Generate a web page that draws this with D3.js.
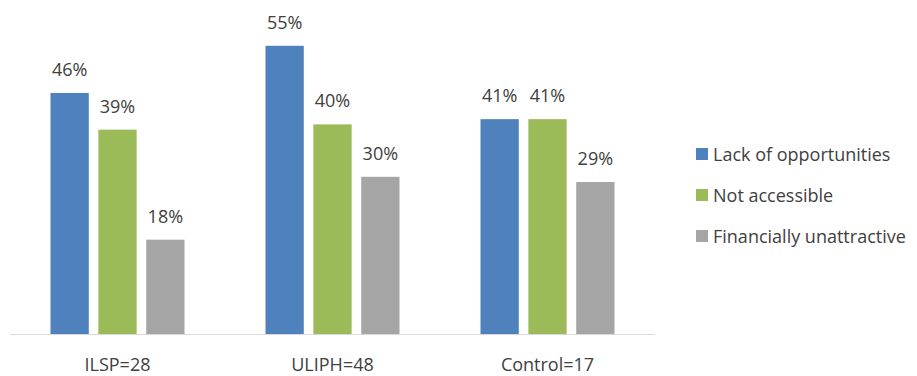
<!DOCTYPE html>
<html>
<head>
<meta charset="utf-8">
<script src="https://cdn.jsdelivr.net/npm/d3@7"></script>
<style>
  body { margin: 0; background: #fff; }
  text { font-family: "Open Sans", "Noto Sans", sans-serif; fill: #404040; }
</style>
</head>
<body>
<svg width="917" height="376"></svg>
<script>
var categories = ["ILSP=28", "ULIPH=48", "Control=17"];
var seriesNames = ["Lack of opportunities", "Not accessible", "Financially unattractive"];
var lackOfOpportunities = [0.46, 0.55, 0.41];
var notAccessible = [0.39, 0.40, 0.41];
var financiallyUnattractive = [0.18, 0.30, 0.29];
var colors = ["#4f81bd", "#9bbb59", "#a5a5a5"];

var series = [lackOfOpportunities, notAccessible, financiallyUnattractive];

var svg = d3.select("svg");
var left = 10, right = 655, baseline = 334;
var fontSize = 18;

var x0 = d3.scaleBand()
    .domain(categories)
    .range([left, right])
    .paddingInner(0)
    .paddingOuter(0);

var x1 = d3.scaleBand()
    .domain(d3.range(series.length))
    .range([40.5, 215 - 40.5])
    .paddingInner(0.2);

var y = d3.scaleLinear()
    .domain([0, 0.6])
    .range([baseline, baseline - 314.4]);

var fmt = d3.format(".0%");

var groups = svg.selectAll("g.cat")
    .data(categories)
    .join("g")
    .attr("class", "cat")
    .attr("transform", d => "translate(" + x0(d) + ",0)");

groups.each(function(cat, ci) {
    var g = d3.select(this);
    series.forEach(function(vals, si) {
        g.append("rect")
            .attr("x", x1(si))
            .attr("width", x1.bandwidth())
            .attr("y", y(vals[ci]))
            .attr("height", baseline - y(vals[ci]))
            .attr("fill", colors[si]);
        g.append("text")
            .attr("x", x1(si) + x1.bandwidth() / 2)
            .attr("y", y(vals[ci]) - 17)
            .attr("text-anchor", "middle")
            .attr("font-size", fontSize)
            .text(fmt(vals[ci]));
    });
});

// baseline axis
svg.append("line")
    .attr("x1", left).attr("x2", right)
    .attr("y1", baseline + 0.5).attr("y2", baseline + 0.5)
    .attr("stroke", "#d9d9d9");

svg.selectAll("text.cat")
    .data(categories)
    .join("text")
    .attr("class", "cat")
    .attr("x", d => x0(d) + x0.bandwidth() / 2)
    .attr("y", 371)
    .attr("text-anchor", "middle")
    .attr("font-size", fontSize)
    .text(d => d);

// legend
var legend = svg.selectAll("g.legend")
    .data(seriesNames)
    .join("g")
    .attr("class", "legend")
    .attr("transform", (d, i) => "translate(696," + (148 + i * 41) + ")");

legend.append("rect")
    .attr("width", 12).attr("height", 12)
    .attr("fill", (d, i) => colors[i]);

legend.append("text")
    .attr("x", 17)
    .attr("y", 13)
    .attr("font-size", fontSize)
    .text(d => d);
</script>
</body>
</html>
